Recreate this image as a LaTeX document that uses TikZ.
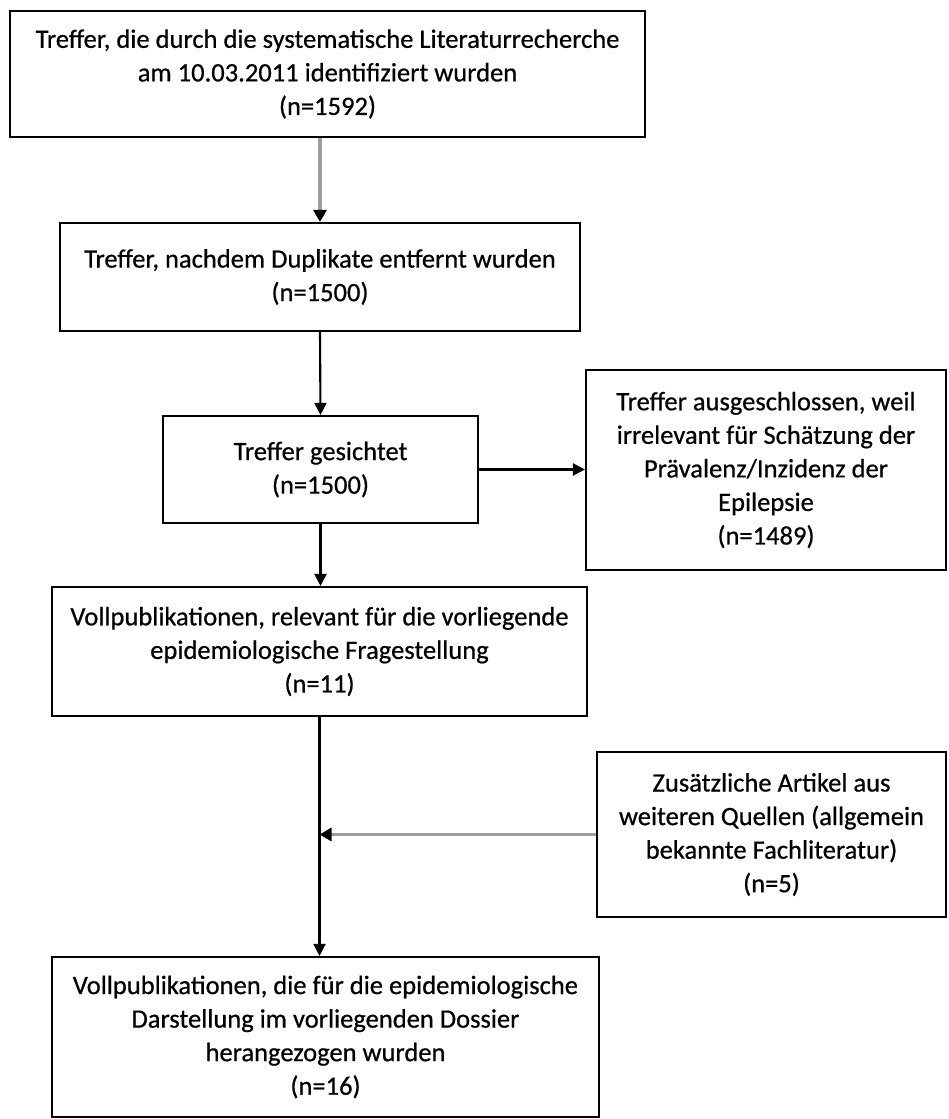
\documentclass[tikz,border=0pt]{standalone}
\usepackage{fontspec}
\setmainfont{Carlito}
\usetikzlibrary{arrows.meta}
\definecolor{flowgrey}{gray}{0.62}
\tikzset{
  flowbox/.style={draw, line width=1.2pt, align=center, inner sep=2pt,
    font=\fontsize{15.1}{19.1}\selectfont\addfontfeature{FakeBold=0.6}},
  flowarrow/.style={line width=1.2pt, -{Triangle[length=0.24cm,width=0.24cm]}},
  greyarrow/.style={draw=flowgrey, line width=1.9pt,
    -{Triangle[black,length=0.24cm,width=0.26cm]}}
}
\begin{document}
\begin{tikzpicture}[x=0.02cm,y=-0.02cm]
\useasboundingbox (0,0) rectangle (948,1119);
\node[flowbox, minimum width=12.7cm, minimum height=2.52cm] (hits) at (327.5,74)
  {Treffer, die durch die systematische Literaturrecherche\\am 10.03.2011 identifiziert wurden\\(n=1592)};
\node[flowbox, minimum width=10.4cm, minimum height=2.16cm] (dedup) at (320,277)
  {Treffer, nachdem Duplikate entfernt wurden\\(n=1500)};
\node[flowbox, minimum width=6.3cm, minimum height=2.14cm] (screened) at (320.5,469.5)
  {Treffer gesichtet\\(n=1500)};
\node[flowbox, minimum width=7.2cm, minimum height=4.0cm] (excluded) at (766,470)
  {Treffer ausgeschlossen, weil\\irrelevant für Schätzung der\\Prävalenz/Inzidenz der\\Epilepsie\\(n=1489)};
\node[flowbox, minimum width=10.7cm, minimum height=2.58cm] (relevant) at (319.5,651.5)
  {Vollpublikationen, relevant für die vorliegende\\epidemiologische Fragestellung\\(n=11)};
\node[flowbox, minimum width=6.98cm, minimum height=3.3cm] (extra) at (771.5,834.5)
  {Zusätzliche Artikel aus\\weiteren Quellen (allgemein\\bekannte Fachliteratur)\\(n=5)};
\node[flowbox, minimum width=10.94cm, minimum height=3.2cm] (final) at (325.5,1037)
  {Vollpublikationen, die für die epidemiologische\\Darstellung im vorliegenden Dossier\\herangezogen wurden\\(n=16)};
\draw[greyarrow] (dedup.north |- hits.south) -- (dedup.north);
\draw[flowarrow] (dedup.south) -- (screened.north);
\draw[flowarrow] (screened.south) -- (screened.south |- relevant.north);
\draw[flowarrow] (screened.east) -- (screened.east -| excluded.west);
\draw[flowarrow] (relevant.south) -- (relevant.south |- final.north);
\draw[greyarrow] (extra.west) -- (extra.west -| relevant.south);
\end{tikzpicture}
\end{document}
